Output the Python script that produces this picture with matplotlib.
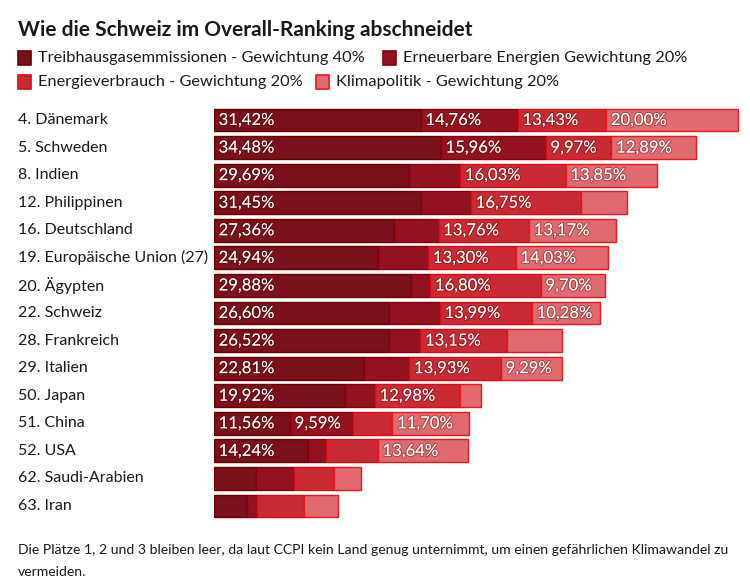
import numpy as np
import matplotlib.pyplot as plt
import matplotlib.transforms as mtransforms
import matplotlib.patheffects as pe

plt.rcParams['font.family'] = ['Lato', 'DejaVu Sans']

laender = ["4. Dänemark", "5. Schweden", "8. Indien", "12. Philippinen", "16. Deutschland",
           "19. Europäische Union (27)", "20. Ägypten", "22. Schweiz", "28. Frankreich",
           "29. Italien", "50. Japan", "51. China", "52. USA", "62. Saudi-Arabien", "63. Iran"]
treibhaus = [31.42, 34.48, 29.69, 31.45, 27.36, 24.94, 29.88, 26.60, 26.52, 22.81, 19.92, 11.56, 14.24, 6.40, 5.06]
erneuerbar = [14.76, 15.96, 7.73, 7.62, 6.77, 7.62, 2.99, 7.73, 4.85, 6.88, 4.53, 9.59, 2.72, 5.76, 1.44]
verbrauch = [13.43, 9.97, 16.03, 16.75, 13.76, 13.30, 16.80, 13.99, 13.15, 13.93, 12.98, 5.97, 7.94, 6.02, 7.20]
klima = [20.00, 12.89, 13.85, 6.93, 13.17, 14.03, 9.70, 10.28, 8.32, 9.29, 3.20, 11.70, 13.64, 4.16, 5.12]

legende = ["Treibhausgasemmissionen - Gewichtung 40%", "Erneuerbare Energien Gewichtung 20%",
           "Energieverbrauch - Gewichtung 20%", "Klimapolitik - Gewichtung 20%"]
farben = ["#7a111c", "#92121f", "#c92a33", "#e06a70"]
kanten = ["#680000", "#880010", "#d80c18", "#e8161f"]

W, H = 750, 586
fig = plt.figure(figsize=(7.5, 5.86), dpi=100)
ax = fig.add_axes([214 / W, (H - 519.8) / H, 526.4 / W, 413.6 / H])

serien = [treibhaus, erneuerbar, verbrauch, klima]
y = np.arange(len(laender))
links = np.zeros(len(laender))
for werte, fc, ec in zip(serien, farben, kanten):
    werte = np.array(werte)
    ax.barh(y, werte, left=links, height=0.83, color=fc, edgecolor=ec, linewidth=1.0)
    for i, v in enumerate(werte):
        if v >= 9:
            ax.text(links[i] + 0.7, i, f"{v:.2f}%".replace(".", ","), color="white",
                    va="center", ha="left", fontsize=12,
                    path_effects=[pe.withStroke(linewidth=1.5, foreground=(0.3, 0, 0, 0.35))])
    links += werte

ax.set_xlim(0, 80)
ax.set_ylim(len(laender) - 0.5, -0.5)
ax.axis("off")

trans = mtransforms.blended_transform_factory(fig.transFigure, ax.transData)
for i, name in enumerate(laender):
    ax.text(18 / W, i, name, transform=trans, va="center", ha="left", fontsize=11.5, color="#1a1a1a")

fig.text(18 / W, 1 - 30 / H, "Wie die Schweiz im Overall-Ranking abschneidet",
         fontsize=15, fontweight="bold", va="center", ha="left", color="#1a1a1a")

pos = [(18, 58), (383, 58), (18, 82), (316, 82)]
for (px, py), txt, fc, ec in zip(pos, legende, farben, kanten):
    fig.patches.append(plt.Rectangle((px / W, 1 - (py + 7) / H), 13 / W, 14 / H,
                                     transform=fig.transFigure, facecolor=fc, edgecolor=ec, linewidth=1.2))
    fig.text((px + 20) / W, 1 - py / H, txt, fontsize=11.8, va="center", ha="left", color="#1a1a1a")

fig.text(18 / W, 1 - 550 / H,
         "Die Plätze 1, 2 und 3 bleiben leer, da laut CCPI kein Land genug unternimmt, um einen gefährlichen Klimawandel zu",
         fontsize=10.1, va="center", ha="left", color="#1a1a1a")
fig.text(18 / W, 1 - 572 / H, "vermeiden.", fontsize=10.1, va="center", ha="left", color="#1a1a1a")

fig.savefig("out.png", dpi=100)
